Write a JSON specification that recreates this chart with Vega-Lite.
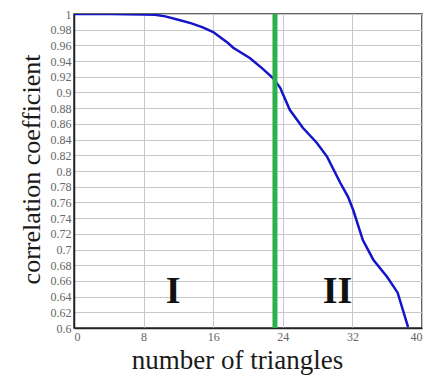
{
  "$schema": "https://vega.github.io/schema/vega-lite/v6.json",
  "width": 348,
  "height": 314,
  "autosize": {"type": "none"},
  "padding": {"left": 74, "top": 14, "right": 4, "bottom": 49},
  "background": "white",
  "config": {
    "view": {"stroke": "#333", "strokeWidth": 1.5},
    "font": "Liberation Serif",
    "axis": {
      "titleFont": "Liberation Serif", "titleFontWeight": "normal", "titleColor": "#1a1a1a",
      "labelFont": "Liberation Serif", "labelFontSize": 12, "labelColor": "#666",
      "labelOverlap": false, "labelBound": false,
      "ticks": false, "labelPadding": 3,
      "domainColor": "#222", "domainWidth": 1.5,
      "gridColor": "#c8c8c8", "gridWidth": 1
    }
  },
  "datasets": {
    "curve": [
      {"n": 0, "r": 1.0}, {"n": 4, "r": 1.0}, {"n": 8, "r": 0.9995}, {"n": 9.3, "r": 0.999},
      {"n": 10.5, "r": 0.997}, {"n": 12.2, "r": 0.992}, {"n": 13.5, "r": 0.988},
      {"n": 14.8, "r": 0.983}, {"n": 16, "r": 0.977}, {"n": 17.7, "r": 0.963},
      {"n": 18.3, "r": 0.957}, {"n": 20.2, "r": 0.944}, {"n": 21.6, "r": 0.931},
      {"n": 22.9, "r": 0.918}, {"n": 23.7, "r": 0.906}, {"n": 24.8, "r": 0.878},
      {"n": 26.3, "r": 0.855}, {"n": 27.9, "r": 0.836}, {"n": 29.1, "r": 0.818},
      {"n": 30.6, "r": 0.785}, {"n": 31.5, "r": 0.767}, {"n": 32.1, "r": 0.75},
      {"n": 33.2, "r": 0.712}, {"n": 34.4, "r": 0.687}, {"n": 36.0, "r": 0.665},
      {"n": 37.2, "r": 0.645}, {"n": 38.4, "r": 0.601}
    ],
    "split": [{"n": 23.1}],
    "labels": [{"n": 11.4, "r": 0.646, "t": "I"}, {"n": 30.3, "r": 0.646, "t": "II"}]
  },
  "layer": [
    {
      "data": {"name": "curve"},
      "mark": {"type": "line", "color": "#1414c8", "strokeWidth": 2.5, "clip": true},
      "encoding": {
        "x": {
          "field": "n", "type": "quantitative",
          "scale": {"domain": [0, 40], "nice": false},
          "axis": {"values": [0, 8, 16, 24, 32, 40], "title": "number of triangles", "titleFontSize": 27, "titleX": 163, "titlePadding": 5}
        },
        "y": {
          "field": "r", "type": "quantitative",
          "scale": {"domain": [0.6, 1], "nice": false, "zero": false},
          "axis": {
            "values": [0.6, 0.62, 0.64, 0.66, 0.68, 0.7, 0.72, 0.74, 0.76, 0.78, 0.8, 0.82, 0.84, 0.86, 0.88, 0.9, 0.92, 0.94, 0.96, 0.98, 1],
            "format": ".2~f", "title": "correlation coefficient", "titleFontSize": 26, "titleY": 155, "titlePadding": 6
          }
        }
      }
    },
    {
      "data": {"name": "split"},
      "mark": {"type": "rule", "color": "#2db04b", "strokeWidth": 5},
      "encoding": {
        "x": {
          "field": "n", "type": "quantitative",
          "scale": {"domain": [0, 40], "nice": false},
          "axis": {"values": [0, 8, 16, 24, 32, 40], "title": "number of triangles", "titleFontSize": 27, "titleX": 163, "titlePadding": 5}
        }
      }
    },
    {
      "data": {"name": "labels"},
      "mark": {"type": "text", "font": "Liberation Serif", "fontWeight": "bold", "fontSize": 38, "color": "#111", "baseline": "middle", "align": "center"},
      "encoding": {
        "x": {
          "field": "n", "type": "quantitative",
          "scale": {"domain": [0, 40], "nice": false},
          "axis": {"values": [0, 8, 16, 24, 32, 40], "title": "number of triangles", "titleFontSize": 27, "titleX": 163, "titlePadding": 5}
        },
        "y": {
          "field": "r", "type": "quantitative",
          "scale": {"domain": [0.6, 1], "nice": false, "zero": false},
          "axis": {
            "values": [0.6, 0.62, 0.64, 0.66, 0.68, 0.7, 0.72, 0.74, 0.76, 0.78, 0.8, 0.82, 0.84, 0.86, 0.88, 0.9, 0.92, 0.94, 0.96, 0.98, 1],
            "format": ".2~f", "title": "correlation coefficient", "titleFontSize": 26, "titleY": 155, "titlePadding": 6
          }
        },
        "text": {"field": "t"}
      }
    }
  ]
}
